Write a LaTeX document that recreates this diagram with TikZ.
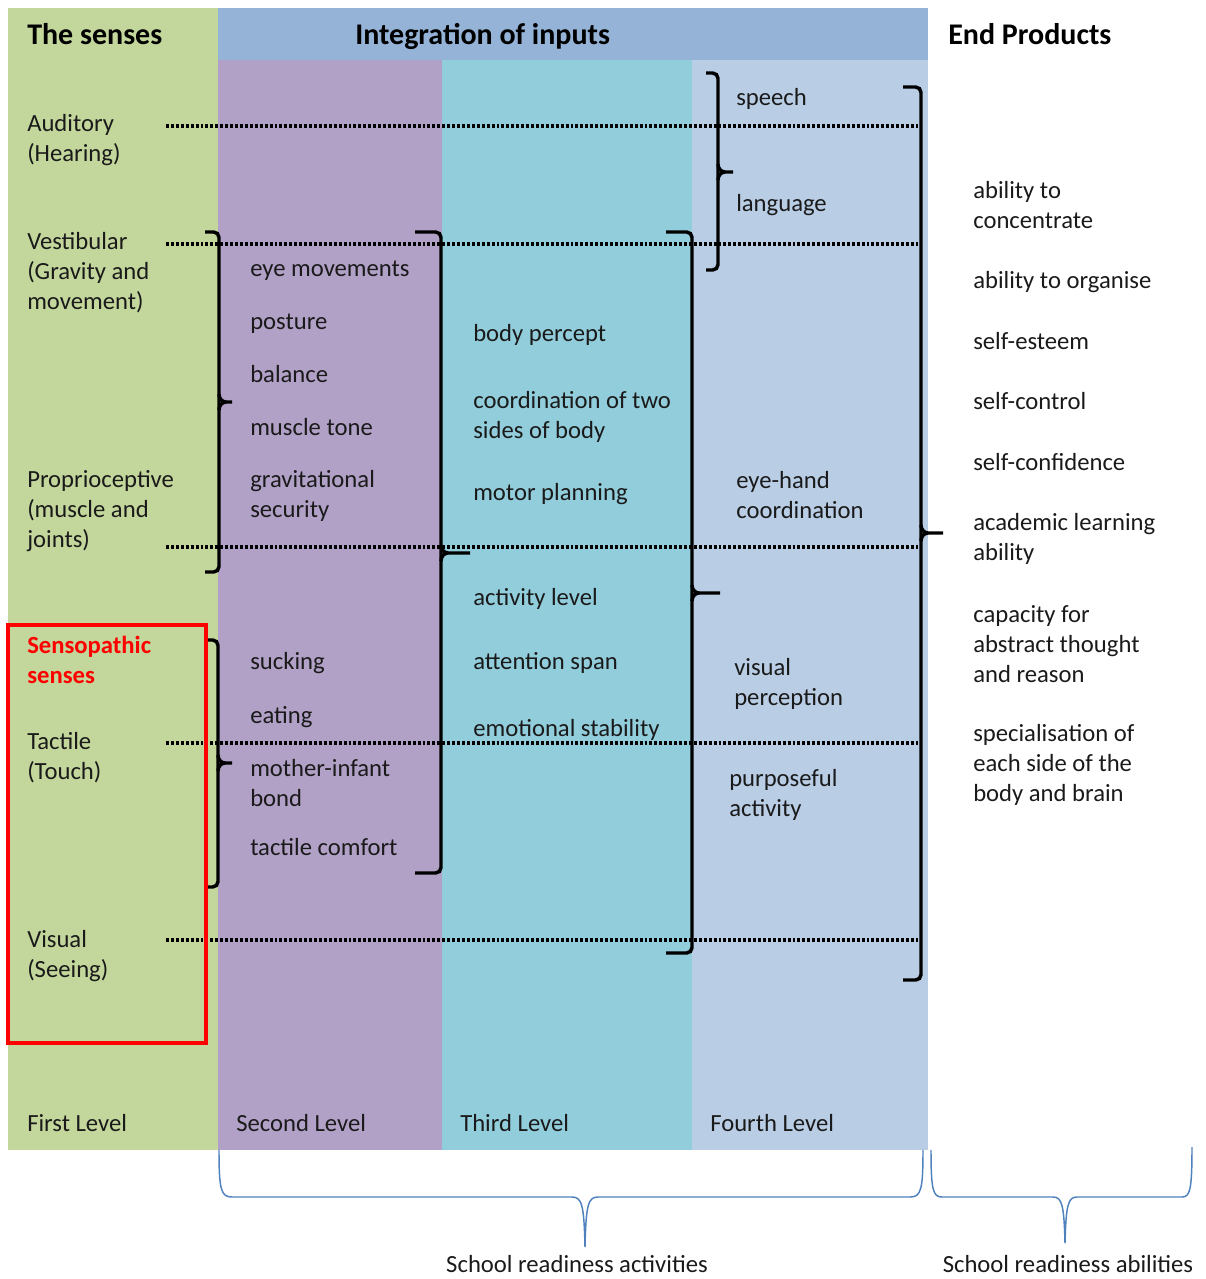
\documentclass[tikz,border=0pt]{standalone}
\usepackage{fontspec}
\setmainfont{Carlito}
\definecolor{cgreen}{HTML}{C3D69B}
\definecolor{cpurple}{HTML}{B2A1C7}
\definecolor{cteal}{HTML}{92CDDC}
\definecolor{clblue}{HTML}{B9CDE5}
\definecolor{chead}{HTML}{95B3D7}
\definecolor{cbrace}{HTML}{4F81BD}
\definecolor{ctext}{HTML}{1A1A1A}
\newcommand\ms{\rule[-2pt]{0pt}{16pt}}
\begin{document}
\begin{tikzpicture}[x=0.75pt,y=-0.75pt,
  txt/.style={anchor=west, inner sep=0pt, align=left, text=ctext, font=\fontsize{18.5}{22.5}\selectfont},
  hdr/.style={anchor=base west, inner sep=0pt, text=black, font=\bfseries\fontsize{22.5}{27}\selectfont},
  brk/.style={line width=2.6pt, rounded corners=4pt},
  dotline/.style={line width=2.4pt, dash pattern=on 2.2pt off 1.5pt},
  sbrace/.style={cbrace, line width=1.1pt}]
\useasboundingbox (0,0) rectangle (1206,1279);
% columns
\fill[cgreen] (8,8) rectangle (218,1150);
\fill[chead] (218,8) rectangle (928,60);
\fill[cpurple] (218,60) rectangle (442,1150);
\fill[cteal] (442,60) rectangle (692,1150);
\fill[clblue] (692,60) rectangle (928,1150);
% headers
\node[hdr] (h1) at (27,44) {The senses};
\node[hdr] (h2) at (355,44) {Integration of inputs};
\node[hdr] (h3) at (948,44) {End Products};
% dotted lines
\foreach \yy/\nm in {126/da,244/dv,547/dp,743/dt,940/dvs}{
  \coordinate (\nm l) at (166,\yy);
  \coordinate (\nm r) at (918,\yy);
  \draw[dotline] (\nm l) -- (\nm r);
}
% first level
\node[txt] (aud) at (27,139) {\ms Auditory\\(Hearing)\ms};
\node[txt] (ves) at (27,272) {\ms Vestibular\\(Gravity and\\movement)\ms};
\node[txt] (pro) at (27,510) {\ms Proprioceptive\\(muscle and\\joints)\ms};
\node[txt, text=red, font=\bfseries\fontsize{18.5}{22.5}\selectfont] (sen) at (27,660) {\ms Sensopathic\\senses\ms};
\node[txt] (tac) at (27,757) {\ms Tactile\\(Touch)\ms};
\node[txt] (vis) at (27,955) {\ms Visual\\(Seeing)\ms};
\node[txt] (l1) at (27,1123) {\ms First Level\ms};
% second level
\node[txt] (s1) at (250,269) {\ms eye movements\ms};
\node[txt] (s2) at (250,322) {\ms posture\ms};
\node[txt] (s3) at (250,374) {\ms balance\ms};
\node[txt] (s4) at (250,427) {\ms muscle tone\ms};
\node[txt] (s5) at (250,495) {\ms gravitational\\security\ms};
\node[txt] (s6) at (250,662) {\ms sucking\ms};
\node[txt] (s7) at (250,716) {\ms eating\ms};
\node[txt] (s8) at (250,783) {\ms mother-infant\\bond\ms};
\node[txt] (s9) at (250,847) {\ms tactile comfort\ms};
\node[txt] (l2) at (236,1123) {\ms Second Level\ms};
% third level
\node[txt] (t1) at (473,334) {\ms body percept\ms};
\node[txt] (t2) at (473,416) {\ms coordination of two\\sides of body\ms};
\node[txt] (t3) at (473,493) {\ms motor planning\ms};
\node[txt] (t4) at (473,598) {\ms activity level\ms};
\node[txt] (t5) at (473,662) {\ms attention span\ms};
\node[txt] (t6) at (473,729) {\ms emotional stability\ms};
\node[txt] (l3) at (460,1123) {\ms Third Level\ms};
% fourth level
\node[txt] (f1) at (736,98) {\ms speech\ms};
\node[txt] (f2) at (736,204) {\ms language\ms};
\node[txt] (f3) at (736,495) {\ms eye-hand\\coordination\ms};
\node[txt] (f4) at (734,683) {\ms visual\\perception\ms};
\node[txt] (f5) at (729,794) {\ms purposeful\\activity\ms};
\node[txt] (l4) at (710,1123) {\ms Fourth Level\ms};
% end products
\node[txt] (e1) at (973,205) {\ms ability to\\concentrate\ms};
\node[txt] (e2) at (973,281) {\ms ability to organise\ms};
\node[txt] (e3) at (973,341) {\ms self-esteem\ms};
\node[txt] (e4) at (973,401) {\ms self-control\ms};
\node[txt] (e5) at (973,462) {\ms self-confidence\ms};
\node[txt] (e6) at (973,538) {\ms academic learning\\ability\ms};
\node[txt] (e7) at (973,644) {\ms capacity for\\abstract thought\\and reason\ms};
\node[txt] (e8) at (973,764) {\ms specialisation of\\each side of the\\body and brain\ms};
% brackets: {x}{top}{bottom}{arm x}{tick y}{tick end}
\newcommand\brkt[6]{%
  \draw[brk] (#4,#2) -- (#1,#2) -- (#1,#3) -- (#4,#3);
  \draw[line width=2.6pt] (#1,#5-8) to[out=-90,in=180] (#1+7,#5) -- (#6,#5);
  \draw[line width=2.6pt] (#1,#5+8) to[out=90,in=180] (#1+7,#5);
}
\brkt{219}{232}{572}{205}{402}{232}
\brkt{441}{232}{873}{415}{553}{470}
\brkt{692}{232}{953}{666}{593}{720}
\brkt{718}{73}{270}{706}{172}{733}
\brkt{921}{87}{980}{903}{533}{943}
\brkt{218}{640}{887}{208}{763}{232}
% red box
\draw[red, line width=3pt] (8,625) rectangle (206,1043);
% bottom braces
\draw[sbrace] (219,1150) .. controls (219,1190) and (221,1197) .. (232,1197) -- (572,1197)
  .. controls (582,1197) and (584,1205) .. (585,1247)
  .. controls (586,1205) and (588,1197) .. (598,1197) -- (910,1197)
  .. controls (921,1197) and (923,1190) .. (923,1150);
\draw[sbrace] (931,1150) .. controls (931,1190) and (933,1197) .. (942,1197) -- (1053,1197)
  .. controls (1062,1197) and (1064,1205) .. (1065,1243)
  .. controls (1066,1205) and (1068,1197) .. (1077,1197) -- (1182,1197)
  .. controls (1190,1197) and (1192,1190) .. (1192,1147);
\node[txt, anchor=base] (b1) at (577,1272) {School readiness activities};
\node[txt, anchor=base] (b2) at (1068,1272) {School readiness abilities};
\end{tikzpicture}
\end{document}
